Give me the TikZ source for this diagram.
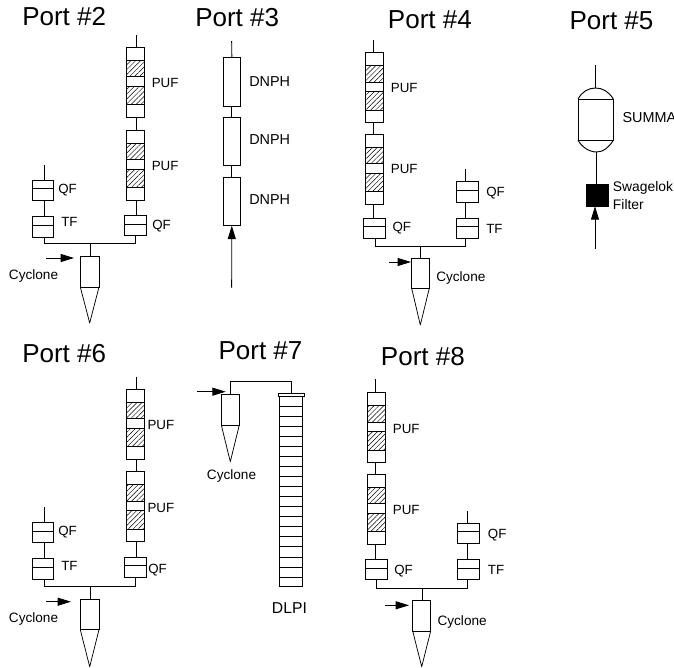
\documentclass[tikz,border=0pt]{standalone}
\usepackage{fontspec}
\setmainfont{Liberation Sans}
\usetikzlibrary{arrows.meta,patterns.meta}
\tikzset{
  x=0.75pt,y=-0.75pt,
  box/.style={draw=black,line width=0.7pt,inner sep=0pt,outer sep=0pt,fill=white},
  hatchbox/.style={box,pattern={Lines[angle=45,distance=2.6pt,line width=0.35pt]}},
  solidbox/.style={box,fill=black},
  pipe/.style={draw=black,line width=0.7pt},
  cone/.style={draw=black,line width=0.55pt,line join=round},
  flow/.style={draw=black,line width=0.7pt,-{Triangle[length=10pt,width=6pt]}},
  lab/.style={anchor=west,inner sep=0pt,text height=7.2pt,text depth=0pt,font=\fontsize{10}{12}\selectfont},
  cyclab/.style={lab,font=\fontsize{10.2}{12}\selectfont},
  swglab/.style={lab,font=\fontsize{10.4}{12}\selectfont},
  widelab/.style={anchor=west,inner sep=0pt,text height=7.7pt,text depth=0pt,font=\fontsize{10.8}{13}\selectfont},
  biglab/.style={anchor=west,inner sep=0pt,text height=8.3pt,text depth=0pt,font=\fontsize{11.8}{14}\selectfont},
  title/.style={anchor=base west,inner sep=0pt,font=\fontsize{19.5}{23}\selectfont},
}
% [style]{name}{x1}{y1}{x2}{y2}
\newcommand\rectnode[6][]{%
  \pgfmathsetmacro\bw{((#5)-(#3))*0.75}%
  \pgfmathsetmacro\bh{((#6)-(#4))*0.75}%
  \node[box,#1,minimum width=\bw pt,minimum height=\bh pt] (#2) at ({((#3)+(#5))/2},{((#4)+(#6))/2}) {};%
}
% {name}{x1}{y1}{x2}  : foam tube, 70 px tall, two hatched plugs
\newcommand\puftube[4]{%
  \rectnode{#1}{#2}{#3}{#4}{(#3)+70}%
  \rectnode[hatchbox]{#1h1}{#2}{(#3)+13}{#4}{(#3)+29.3}%
  \rectnode[hatchbox]{#1h2}{#2}{(#3)+39}{#4}{(#3)+57.3}%
}
% {name}{x1}{y1}{x2}{y2}{ymid}
\newcommand\filt[6]{%
  \rectnode{#1}{#2}{#3}{#4}{#5}%
  \draw[pipe] (#1.west |- 0,#6) -- (#1.east |- 0,#6);%
}
% {name}{x1}{y1}{x2}{y2}{apex x}{apex y}
\newcommand\cyc[7]{%
  \rectnode{#1}{#2}{#3}{#4}{#5}%
  \coordinate (#1tip) at (#6,#7);%
  \draw[cone] (#1.south west) -- (#1tip) -- (#1.south east);%
}
\begin{document}
\begin{tikzpicture}
\useasboundingbox (0,0) rectangle (674,667);
\fill[white] (0,0) rectangle (674,667);

% ---- Port 2
\node[title] (t2) at (22,26) {Port \#2};
\coordinate (p2top) at (136.7,35);
\puftube{p2a}{126.7}{47.3}{144.7}
\puftube{p2b}{126.7}{130}{144.7}
\filt{p2q}{124.5}{215.3}{146.3}{235.3}{224}
\filt{p2lq}{32}{180.3}{53.7}{200.3}{188}
\filt{p2lt}{32}{216.3}{53.7}{237}{225}
\cyc{p2c}{80.3}{256.3}{99}{287}{89.7}{323}
\coordinate (p2ltop) at (44.5,165);
\coordinate (p2lx) at (44.5,243);
\coordinate (p2j) at (90,243);
\coordinate (p2rx) at (135.3,243);
\coordinate (p2as) at (46,258);
\coordinate (p2ae) at (74,258);
\draw[pipe] (p2top) -- (p2top |- p2a.north);
\draw[pipe] (p2top |- p2a.south) -- (p2top |- p2b.north);
\draw[pipe] (p2top |- p2b.south) -- (p2top |- p2q.north);
\draw[pipe] (p2ltop) -- (p2ltop |- p2lq.north);
\draw[pipe] (p2ltop |- p2lq.south) -- (p2ltop |- p2lt.north);
\draw[pipe] (p2lx |- p2lt.south) -- (p2lx) -- (p2rx) -- (p2rx |- p2q.south);
\draw[pipe] (p2j) -- (p2j |- p2c.north);
\draw[flow] (p2as) -- (p2ae);
\node[lab] (l2a) at (151.5,82.5) {PUF};
\node[lab] (l2b) at (151.5,166) {PUF};
\node[lab] (l2c) at (152,225) {QF};
\node[lab] (l2d) at (58,188.5) {QF};
\node[lab] (l2e) at (61,222) {TF};
\node[cyclab] (l2f) at (8.7,274.5) {Cyclone};

% ---- Port 3
\node[title] (t3) at (195,26.7) {Port \#3};
\coordinate (p3top) at (231.7,41);
\coordinate (p3bot) at (231.7,287.7);
\rectnode{p3a}{223.3}{57.7}{240.3}{106.3}
\rectnode{p3b}{223.3}{117.3}{240.3}{165.7}
\rectnode{p3c}{223.3}{177.3}{240.3}{225.7}
\draw[pipe] (p3top) -- (p3a.north);
\draw[pipe] (p3a.south) -- (p3b.north);
\draw[pipe] (p3b.south) -- (p3c.north);
\draw[flow] (p3bot) -- (p3c.south);
\node[widelab] (l3a) at (249,81.3) {DNPH};
\node[widelab] (l3b) at (249,139) {DNPH};
\node[widelab] (l3c) at (249,199) {DNPH};

% ---- Port 4
\node[title] (t4) at (387.7,29) {Port \#4};
\coordinate (p4top) at (373.3,40);
\puftube{p4a}{365.3}{52.7}{383.3}
\puftube{p4b}{365.3}{134.3}{383.3}
\filt{p4q}{363.7}{218.3}{385.7}{238.3}{226.7}
\filt{p4rq}{456.3}{181.7}{478}{202}{190}
\filt{p4rt}{456.3}{218.3}{478}{238.3}{226.7}
\cyc{p4c}{411.7}{258}{429.3}{288.3}{420.3}{325}
\coordinate (p4rtop) at (465.7,169);
\coordinate (p4lx) at (375,246.3);
\coordinate (p4j) at (420.3,246.3);
\coordinate (p4rx) at (465.7,246.3);
\coordinate (p4as) at (389.3,262);
\coordinate (p4ae) at (411,262);
\draw[pipe] (p4top) -- (p4top |- p4a.north);
\draw[pipe] (p4top |- p4a.south) -- (p4top |- p4b.north);
\draw[pipe] (p4top |- p4b.south) -- (p4top |- p4q.north);
\draw[pipe] (p4rtop) -- (p4rtop |- p4rq.north);
\draw[pipe] (p4rtop |- p4rq.south) -- (p4rtop |- p4rt.north);
\draw[pipe] (p4lx |- p4q.south) -- (p4lx) -- (p4rx) -- (p4rx |- p4rt.south);
\draw[pipe] (p4j) -- (p4j |- p4c.north);
\draw[flow] (p4as) -- (p4ae);
\node[lab] (l4a) at (390.7,88) {PUF};
\node[lab] (l4b) at (390.7,169) {PUF};
\node[lab] (l4c) at (392.3,227) {QF};
\node[lab] (l4d) at (486,192) {QF};
\node[lab] (l4e) at (486,228.7) {TF};
\node[cyclab] (l4f) at (436,277) {Cyclone};

% ---- Port 5
\node[title] (t5) at (569.3,30) {Port \#5};
\coordinate (p5top) at (595,65);
\coordinate (p5dt) at (595.5,88);
\coordinate (p5db) at (596.7,152);
\coordinate (p5bot) at (595,249);
\rectnode{p5s}{578}{99}{613.3}{140.3}
\rectnode[solidbox]{p5f}{586}{184}{608.3}{206.3}
\draw[pipe] (p5s.north west) .. controls (582,92) and (588,88) .. (p5dt) .. controls (603,88) and (609,92) .. (p5s.north east);
\draw[pipe] (p5s.south west) .. controls (582,147) and (589,152) .. (p5db) .. controls (604,152) and (609,147) .. (p5s.south east);
\draw[pipe] (p5top) -- (p5dt -| p5top);
\draw[pipe] (p5db) -- (p5db |- p5f.north);
\draw[flow] (p5bot) -- (p5bot |- p5f.south);
\node[widelab] (l5a) at (622.3,117) {SUMMA};
\node[swglab] (l5b) at (612.7,187) {Swagelok};
\node[swglab] (l5c) at (612.7,205) {Filter};

% ---- Port 6
\node[title] (t6) at (22,362.7) {Port \#6};
\coordinate (p6top) at (136.7,377);
\puftube{p6a}{126.7}{389}{144.7}
\puftube{p6b}{126.7}{471.7}{144.7}
\filt{p6q}{124.5}{557}{146.3}{577.3}{565.7}
\filt{p6lq}{32}{522.3}{53.7}{542.7}{531}
\filt{p6lt}{32}{558.7}{53.7}{579}{567}
\cyc{p6c}{80.3}{599.3}{99}{629.7}{89.7}{666.7}
\coordinate (p6ltop) at (44,506.7);
\coordinate (p6lx) at (44.5,586.7);
\coordinate (p6j) at (90,586.7);
\coordinate (p6rx) at (135.3,586.7);
\coordinate (p6as) at (46,601.7);
\coordinate (p6ae) at (71,601.7);
\draw[pipe] (p6top) -- (p6top |- p6a.north);
\draw[pipe] (p6top |- p6a.south) -- (p6top |- p6b.north);
\draw[pipe] (p6top |- p6b.south) -- (p6top |- p6q.north);
\draw[pipe] (p6ltop) -- (p6ltop |- p6lq.north);
\draw[pipe] (p6ltop |- p6lq.south) -- (p6ltop |- p6lt.north);
\draw[pipe] (p6lx |- p6lt.south) -- (p6lx) -- (p6rx) -- (p6rx |- p6q.south);
\draw[pipe] (p6j) -- (p6j |- p6c.north);
\draw[flow] (p6as) -- (p6ae);
\node[lab] (l6a) at (147.3,425) {PUF};
\node[lab] (l6b) at (147.3,508) {PUF};
\node[lab] (l6c) at (148,569) {QF};
\node[lab] (l6d) at (58,531) {QF};
\node[lab] (l6e) at (61,565.7) {TF};
\node[cyclab] (l6f) at (8.7,617.7) {Cyclone};

% ---- Port 7
\node[title] (t7) at (218.3,359.3) {Port \#7};
\cyc{p7c}{221.3}{394.3}{239.3}{425}{230.3}{461.7}
\rectnode{p7d}{279.7}{396.7}{302.7}{586}
\rectnode{p7cap}{278}{393.3}{304.7}{396.7}
\foreach \k in {0,...,17}{%
  \coordinate (p7r) at (0,{330+(228+30.2*\k)/3});
  \draw[pipe] (p7d.west |- p7r) -- (p7d.east |- p7r);
}
\coordinate (p7l) at (230.7,381.3);
\coordinate (p7u) at (291,381.3);
\coordinate (p7as) at (197,391.7);
\coordinate (p7ae) at (225.7,391.7);
\draw[pipe] (p7l |- p7c.north) -- (p7l) -- (p7u) -- (p7u |- p7cap.north);
\draw[flow] (p7as) -- (p7ae);
\node[cyclab] (l7a) at (206.7,474.3) {Cyclone};
\node[biglab] (l7b) at (271.7,608.3) {DLPI};

% ---- Port 8
\node[title] (t8) at (380.7,365) {Port \#8};
\coordinate (p8top) at (375.3,379.3);
\puftube{p8a}{367}{392.7}{385}
\puftube{p8b}{367}{474.3}{385}
\filt{p8q}{365.3}{559.7}{387.3}{579.7}{568.3}
\filt{p8rq}{457.7}{523.3}{479.3}{543.3}{531.7}
\filt{p8rt}{457.7}{559.7}{479.3}{579.7}{568}
\cyc{p8c}{412.7}{600.7}{430.7}{631}{421.7}{666.7}
\coordinate (p8rtop) at (467.3,511.3);
\coordinate (p8lx) at (376.7,588);
\coordinate (p8j) at (422.3,588);
\coordinate (p8rx) at (467,588);
\coordinate (p8as) at (385,605.3);
\coordinate (p8ae) at (409,605.3);
\draw[pipe] (p8top) -- (p8top |- p8a.north);
\draw[pipe] (p8top |- p8a.south) -- (p8top |- p8b.north);
\draw[pipe] (p8top |- p8b.south) -- (p8top |- p8q.north);
\draw[pipe] (p8rtop) -- (p8rtop |- p8rq.north);
\draw[pipe] (p8rtop |- p8rq.south) -- (p8rtop |- p8rt.north);
\draw[pipe] (p8lx |- p8q.south) -- (p8lx) -- (p8rx) -- (p8rx |- p8rt.south);
\draw[pipe] (p8j) -- (p8j |- p8c.north);
\draw[flow] (p8as) -- (p8ae);
\node[lab] (l8a) at (392.7,428.3) {PUF};
\node[lab] (l8b) at (392.7,510) {PUF};
\node[lab] (l8c) at (394,569.3) {QF};
\node[lab] (l8d) at (487.7,533.3) {QF};
\node[lab] (l8e) at (487.7,569.3) {TF};
\node[cyclab] (l8f) at (437.3,620.3) {Cyclone};
\end{tikzpicture}
\end{document}
